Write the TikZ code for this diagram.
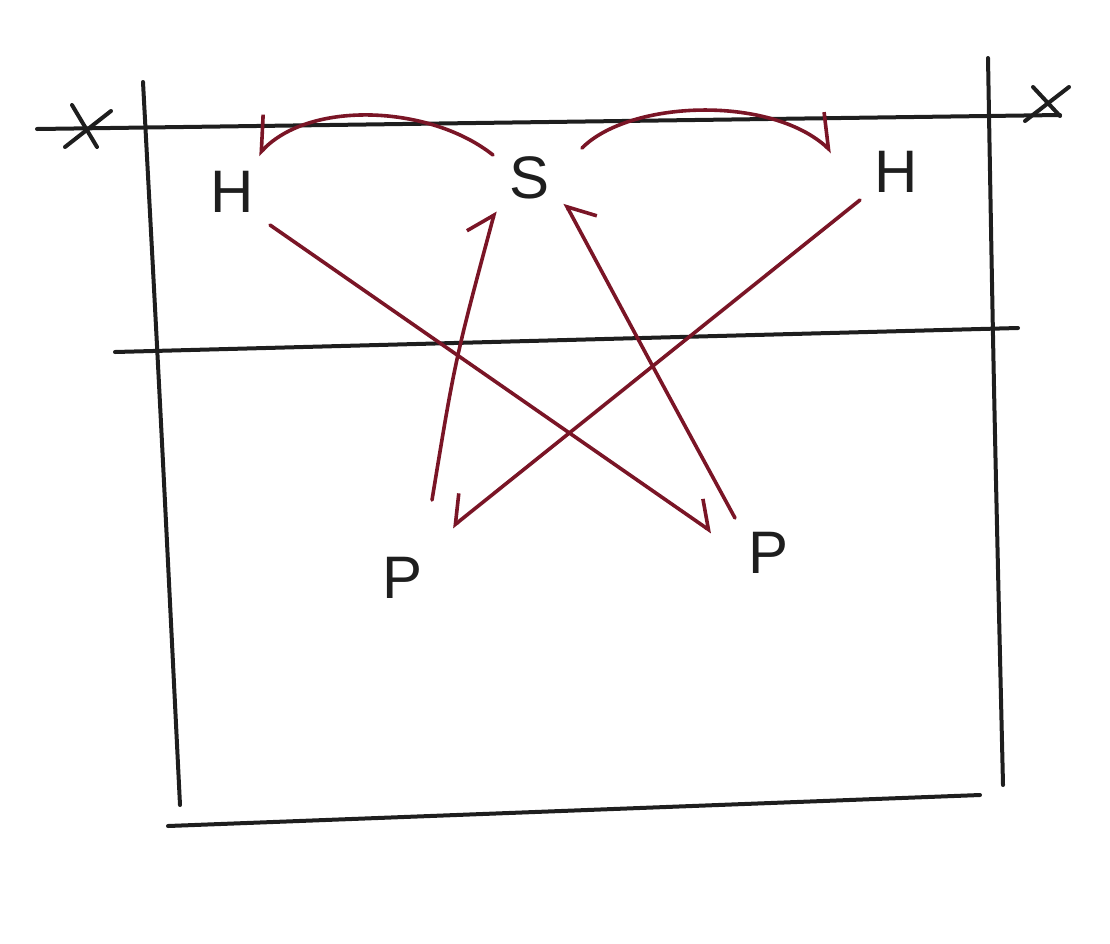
\documentclass[tikz,border=0pt]{standalone}
\usepackage{fontspec}
\setmainfont{Liberation Sans}
\usetikzlibrary{arrows.meta,calc}
\definecolor{ink}{HTML}{1E1E1E}
\definecolor{wine}{HTML}{7A1526}
\tikzset{
  pen/.style={draw=ink,line width=4pt,line cap=round},
  redpen/.style={draw=wine,line width=3.6pt,line cap=round},
  hookL/.style={redpen,-{Straight Barb[harpoon,swap,length=22pt,width=44pt,line width=3.6pt]}},
  hookR/.style={redpen,-{Straight Barb[harpoon,length=22pt,width=44pt,line width=3.6pt]}},
  archookL/.style={redpen,-{Straight Barb[harpoon,swap,length=28pt,width=48pt,line width=3.6pt]}},
  archookR/.style={redpen,-{Straight Barb[harpoon,length=28pt,width=48pt,line width=3.6pt]}},
  letter/.style={inner sep=0pt,text=ink,font=\fontsize{60}{60}\selectfont},
}
\begin{document}
\begin{tikzpicture}[x=1pt,y=-1pt]
\useasboundingbox (0,0) rectangle (1110,943);
% grid lines
\draw[pen] (37,129) -- (1060,115);
\draw[pen] (115,352) -- (1018,328);
\draw[pen] (168,826) -- (980,795);
\draw[pen] (143,82) .. controls (160,400) .. (180,805);
\draw[pen] (988,58) .. controls (994,400) .. (1003,785);
% X marks
\draw[pen] (72,105) -- (97,147);
\draw[pen] (65,147) -- (111,111);
\draw[pen] (1033,87) -- (1060,116);
\draw[pen] (1025,121) -- (1069,87);
% letters
\node[letter] (hl) at (232,192) {H};
\node[letter] (hr) at (896,172) {H};
\node[letter] (s)  at (530,178) {S};
\node[letter] (pl) at (403,578) {P};
\node[letter] (pr) at (768,553) {P};
% connector ends
\coordinate (s-l)  at ($(s)+(-37,-23)$);
\coordinate (s-r)  at ($(s)+(52,-30)$);
\coordinate (hl-t) at ($(hl)+(26,-37)$);
\coordinate (hr-t) at ($(hr)+(-64,-20)$);
\coordinate (hl-o) at ($(hl)+(38,33)$);
\coordinate (hr-o) at ($(hr)+(-36,28)$);
\coordinate (pl-i) at ($(pl)+(49,-51)$);
\coordinate (pl-o) at ($(pl)+(29,-78)$);
\coordinate (pr-i) at ($(pr)+(-56,-21)$);
\coordinate (pr-o) at ($(pr)+(-33,-35)$);
\coordinate (s-bl) at ($(s)+(-35,33)$);
\coordinate (s-br) at ($(s)+(35,25)$);
% arrows
\draw[archookL] (s-l) .. controls (430,105) and (310,100) .. (hl-t);
\draw[archookR] (s-r) .. controls (630,100) and (770,95) .. (hr-t);
\draw[hookR] (hl-o) -- (pr-i);
\draw[hookL] (hr-o) -- (pl-i);
\draw[hookR] (pl-o) .. controls (455,360) .. (s-bl);
\draw[hookL] (pr-o) .. controls (660,380) .. (s-br);
\end{tikzpicture}
\end{document}
